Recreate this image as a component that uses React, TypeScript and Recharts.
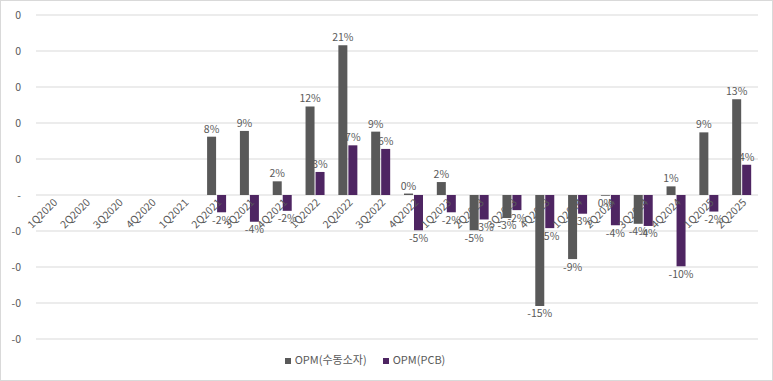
import React from "react"
import { BarChart, Bar, XAxis, YAxis, CartesianGrid, Legend, LabelList } from "recharts"

const darkGray = "#595959";
const purple = "#4e2562";
const gridColor = "#d9d9d9";
const textColor = "#595959";
const fontFamily = "'Noto Sans CJK KR', 'Noto Sans', sans-serif";

const quarters = [
    "1Q2020", "2Q2020", "3Q2020", "4Q2020",
    "1Q2021", "2Q2021", "3Q2021", "4Q2021",
    "1Q2022", "2Q2022", "3Q2022", "4Q2022",
    "1Q2023", "2Q2023", "3Q2023", "4Q2023",
    "1Q2024", "2Q2024", "3Q2024", "4Q2024",
    "1Q2025", "2Q2025",
];

// OPM(수동소자)
const opmPassive = [
    null, null, null, null,
    null, 0.081, 0.089, 0.019,
    0.123, 0.208, 0.088, 0.002,
    0.018, -0.049, -0.032, -0.154,
    -0.089, -0.001, -0.040, 0.012,
    0.087, 0.133,
];

// OPM(PCB)
const opmPcb = [
    null, null, null, null,
    null, -0.024, -0.037, -0.022,
    0.032, 0.069, 0.064, -0.049,
    -0.024, -0.034, -0.021, -0.046,
    -0.026, -0.042, -0.043, -0.099,
    -0.023, 0.042,
];

const yTicks = [-0.2, -0.15, -0.1, -0.05, 0, 0.05, 0.1, 0.15, 0.2, 0.25];

const data = quarters.map((q, i) => ({ q, passive: opmPassive[i], pcb: opmPcb[i] }));

const W = 773;
const H = 381;
const xAxisH = 2;
const legendH = 24;
const margin = { top: 15, right: 15, left: 0, bottom: 42 - legendH - xAxisH };
const plotH = H - margin.top - margin.bottom - legendH - xAxisH;
const yMin = yTicks[0];
const yMax = yTicks[yTicks.length - 1];
// distance from plot bottom up to the zero line
const zeroShift = plotH * (0 - yMin) / (yMax - yMin);

function formatY(v: number): string {
    if (Math.abs(v) < 1e-9) return "-";
    return v < 0 ? "-0" : "0";
}

function formatPct(v: any): string {
    if (v === null || v === undefined) return "";
    return Math.round(v * 100) + "%";
}

const XTick = (props: any) => {
    const { x, y, payload } = props;
    const ty = y - zeroShift;
    return (
        <text x={x} y={ty} dx={4} dy={4} fill={textColor} fontSize={10.5} fontFamily={fontFamily}
            textAnchor="end" transform={`rotate(-45, ${x}, ${ty})`}>
            {payload.value}
        </text>
    );
};

export default function App() {
    return (
        <div style={{ position: "absolute", left: 0, top: 0, width: W, height: H }}>
            <BarChart width={W} height={H} data={data} margin={margin} barGap={1}
                style={{ fontFamily }}>
                <CartesianGrid vertical={false} stroke={gridColor} />
                <XAxis dataKey="q" height={xAxisH} axisLine={false} tickLine={false} tick={XTick} interval={0} />
                <YAxis domain={[yMin, yMax]} ticks={yTicks} tickFormatter={formatY} width={36}
                    axisLine={false} tickLine={false} tickSize={0} tickMargin={15}
                    tick={{ fill: textColor, fontSize: 10.5, fontFamily }} />
                <Legend verticalAlign="bottom" height={legendH} iconType="square" iconSize={6}
                    itemSorter={(item: any) => (item.dataKey === "passive" ? 0 : 1)}
                    wrapperStyle={{ bottom: 6, left: -6, fontSize: 11, fontFamily }}
                    formatter={(value: string) => <span style={{ color: textColor, marginRight: 6 }}>{value}</span>} />
                <Bar dataKey="passive" name="OPM(수동소자)" fill={darkGray} barSize={9} isAnimationActive={false}>
                    <LabelList dataKey="passive" position="top" offset={4} formatter={formatPct}
                        fill={textColor} fontSize={10.5} fontFamily={fontFamily} />
                </Bar>
                <Bar dataKey="pcb" name="OPM(PCB)" fill={purple} barSize={9} isAnimationActive={false}>
                    <LabelList dataKey="pcb" position="top" offset={4} formatter={formatPct}
                        fill={textColor} fontSize={10.5} fontFamily={fontFamily} />
                </Bar>
            </BarChart>
            <div style={{ position: "absolute", left: 0, top: 0, width: W - 2, height: H - 2, border: `1px solid ${gridColor}`, pointerEvents: "none" }} />
        </div>
    );
}
